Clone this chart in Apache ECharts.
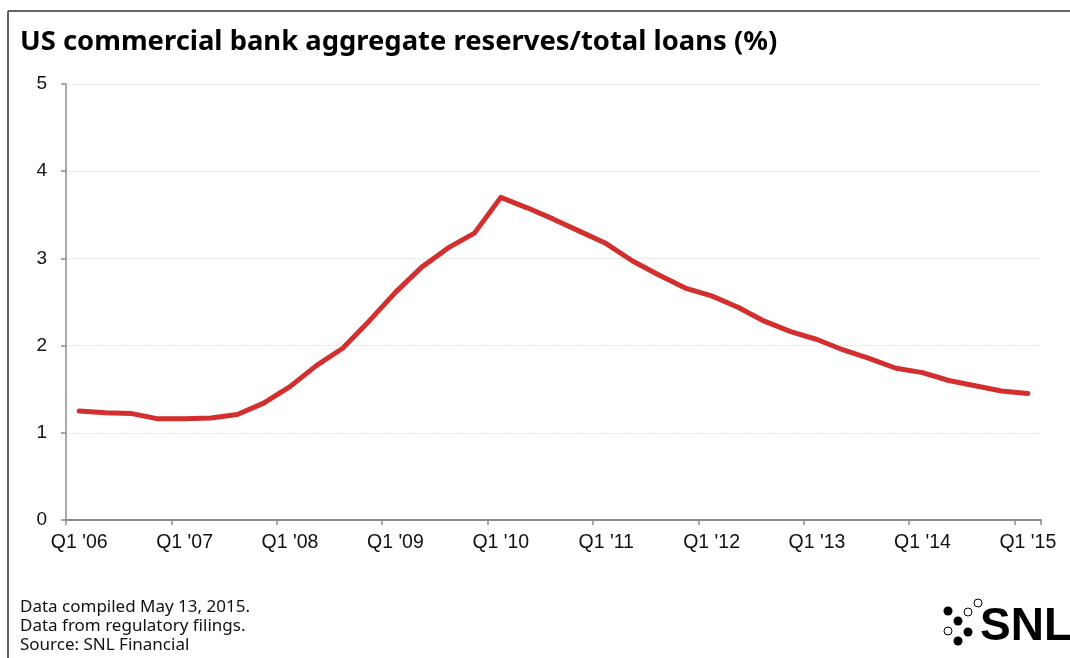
<!DOCTYPE html>
<html>
<head>
<meta charset="utf-8">
<script src="https://cdn.jsdelivr.net/npm/echarts@6/dist/echarts.min.js"></script>
<style>
html,body{margin:0;padding:0;background:#fff;}
#chart{width:1070px;height:658px;}
</style>
</head>
<body>
<div id="chart"></div>
<script>
const titleText = "US commercial bank aggregate reserves/total loans (%)";
const footnotes = ["Data compiled May 13, 2015.", "Data from regulatory filings.", "Source: SNL Financial"];
const years = ["06","07","08","09","10","11","12","13","14","15"];
const quarters = [];
years.forEach(function (y, i) {
  for (let q = 1; q <= 4; q++) {
    if (i === years.length - 1 && q > 1) break;
    quarters.push("Q" + q + " '" + y);
  }
});
const reserveRatio = [
  1.25, 1.23, 1.22, 1.16, 1.16, 1.17, 1.21, 1.34,
  1.53, 1.77, 1.97, 2.28, 2.61, 2.90, 3.12, 3.29,
  3.70, 3.58, 3.45, 3.31, 3.17, 2.97, 2.81, 2.66,
  2.57, 2.44, 2.28, 2.16, 2.07, 1.95, 1.85, 1.74,
  1.69, 1.60, 1.54, 1.48, 1.45
];
const yTicks = [0, 1, 2, 3, 4, 5];

const chart = echarts.init(document.getElementById('chart'), null, {renderer: 'canvas'});
chart.setOption({
  backgroundColor: '#ffffff',
  animation: false,
  grid: {left: 66, right: 29, top: 84, bottom: 138},
  xAxis: {
    type: 'category',
    data: quarters,
    boundaryGap: true,
    axisLine: {lineStyle: {color: '#8c8c8c', width: 2}},
    axisTick: {show: true, interval: 3, length: 5, lineStyle: {color: '#8c8c8c', width: 1.5}},
    axisLabel: {interval: 3, margin: 13, color: '#111', fontFamily: 'Liberation Sans', fontSize: 19.5},
    splitLine: {show: false}
  },
  yAxis: {
    type: 'value',
    min: yTicks[0], max: yTicks[yTicks.length - 1], interval: 1,
    axisLine: {show: true, lineStyle: {color: '#8c8c8c', width: 1.5}},
    axisTick: {show: true, length: 5, lineStyle: {color: '#8c8c8c', width: 1.5}},
    axisLabel: {margin: 19, color: '#111', fontFamily: 'Liberation Sans', fontSize: 19},
    splitLine: {show: true, lineStyle: {color: '#e3e3e3', width: 1, type: [2, 1]}}
  },
  series: [{
    type: 'line',
    data: reserveRatio,
    symbol: 'none',
    lineStyle: {color: '#d32f2f', width: 5, join: 'round', cap: 'round'},
    z: 5
  }],
  graphic: [
    {type: 'line', shape: {x1: 8, y1: 11, x2: 1070, y2: 11}, style: {stroke: '#333', lineWidth: 1.5}},
    {type: 'line', shape: {x1: 8, y1: 11, x2: 8, y2: 658}, style: {stroke: '#333', lineWidth: 1.5}},
    {type: 'text', left: 20, top: 29, style: {text: titleText, fill: '#000', font: 'bold 27.4px "Noto Sans"'}},
    {type: 'text', left: 20, top: 598, style: {text: footnotes.join('\n'), fill: '#111', font: '17px "Noto Sans"', lineHeight: 19}},
    {type: 'circle', shape: {cx: 948, cy: 611, r: 4.5}, style: {fill: '#000'}},
    {type: 'circle', shape: {cx: 968, cy: 612, r: 4}, style: {fill: '#fff', stroke: '#000', lineWidth: 1}},
    {type: 'circle', shape: {cx: 978, cy: 603, r: 4}, style: {fill: '#fff', stroke: '#000', lineWidth: 1}},
    {type: 'circle', shape: {cx: 958, cy: 621, r: 4.5}, style: {fill: '#000'}},
    {type: 'circle', shape: {cx: 948, cy: 631, r: 4}, style: {fill: '#fff', stroke: '#000', lineWidth: 1}},
    {type: 'circle', shape: {cx: 968, cy: 632, r: 4.5}, style: {fill: '#000'}},
    {type: 'circle', shape: {cx: 958, cy: 641, r: 4.5}, style: {fill: '#000'}},
    {type: 'text', left: 980, top: 604, style: {text: 'SNL', fill: '#000', font: 'bold 46px "Liberation Sans"'}}
  ]
});
</script>
</body>
</html>
